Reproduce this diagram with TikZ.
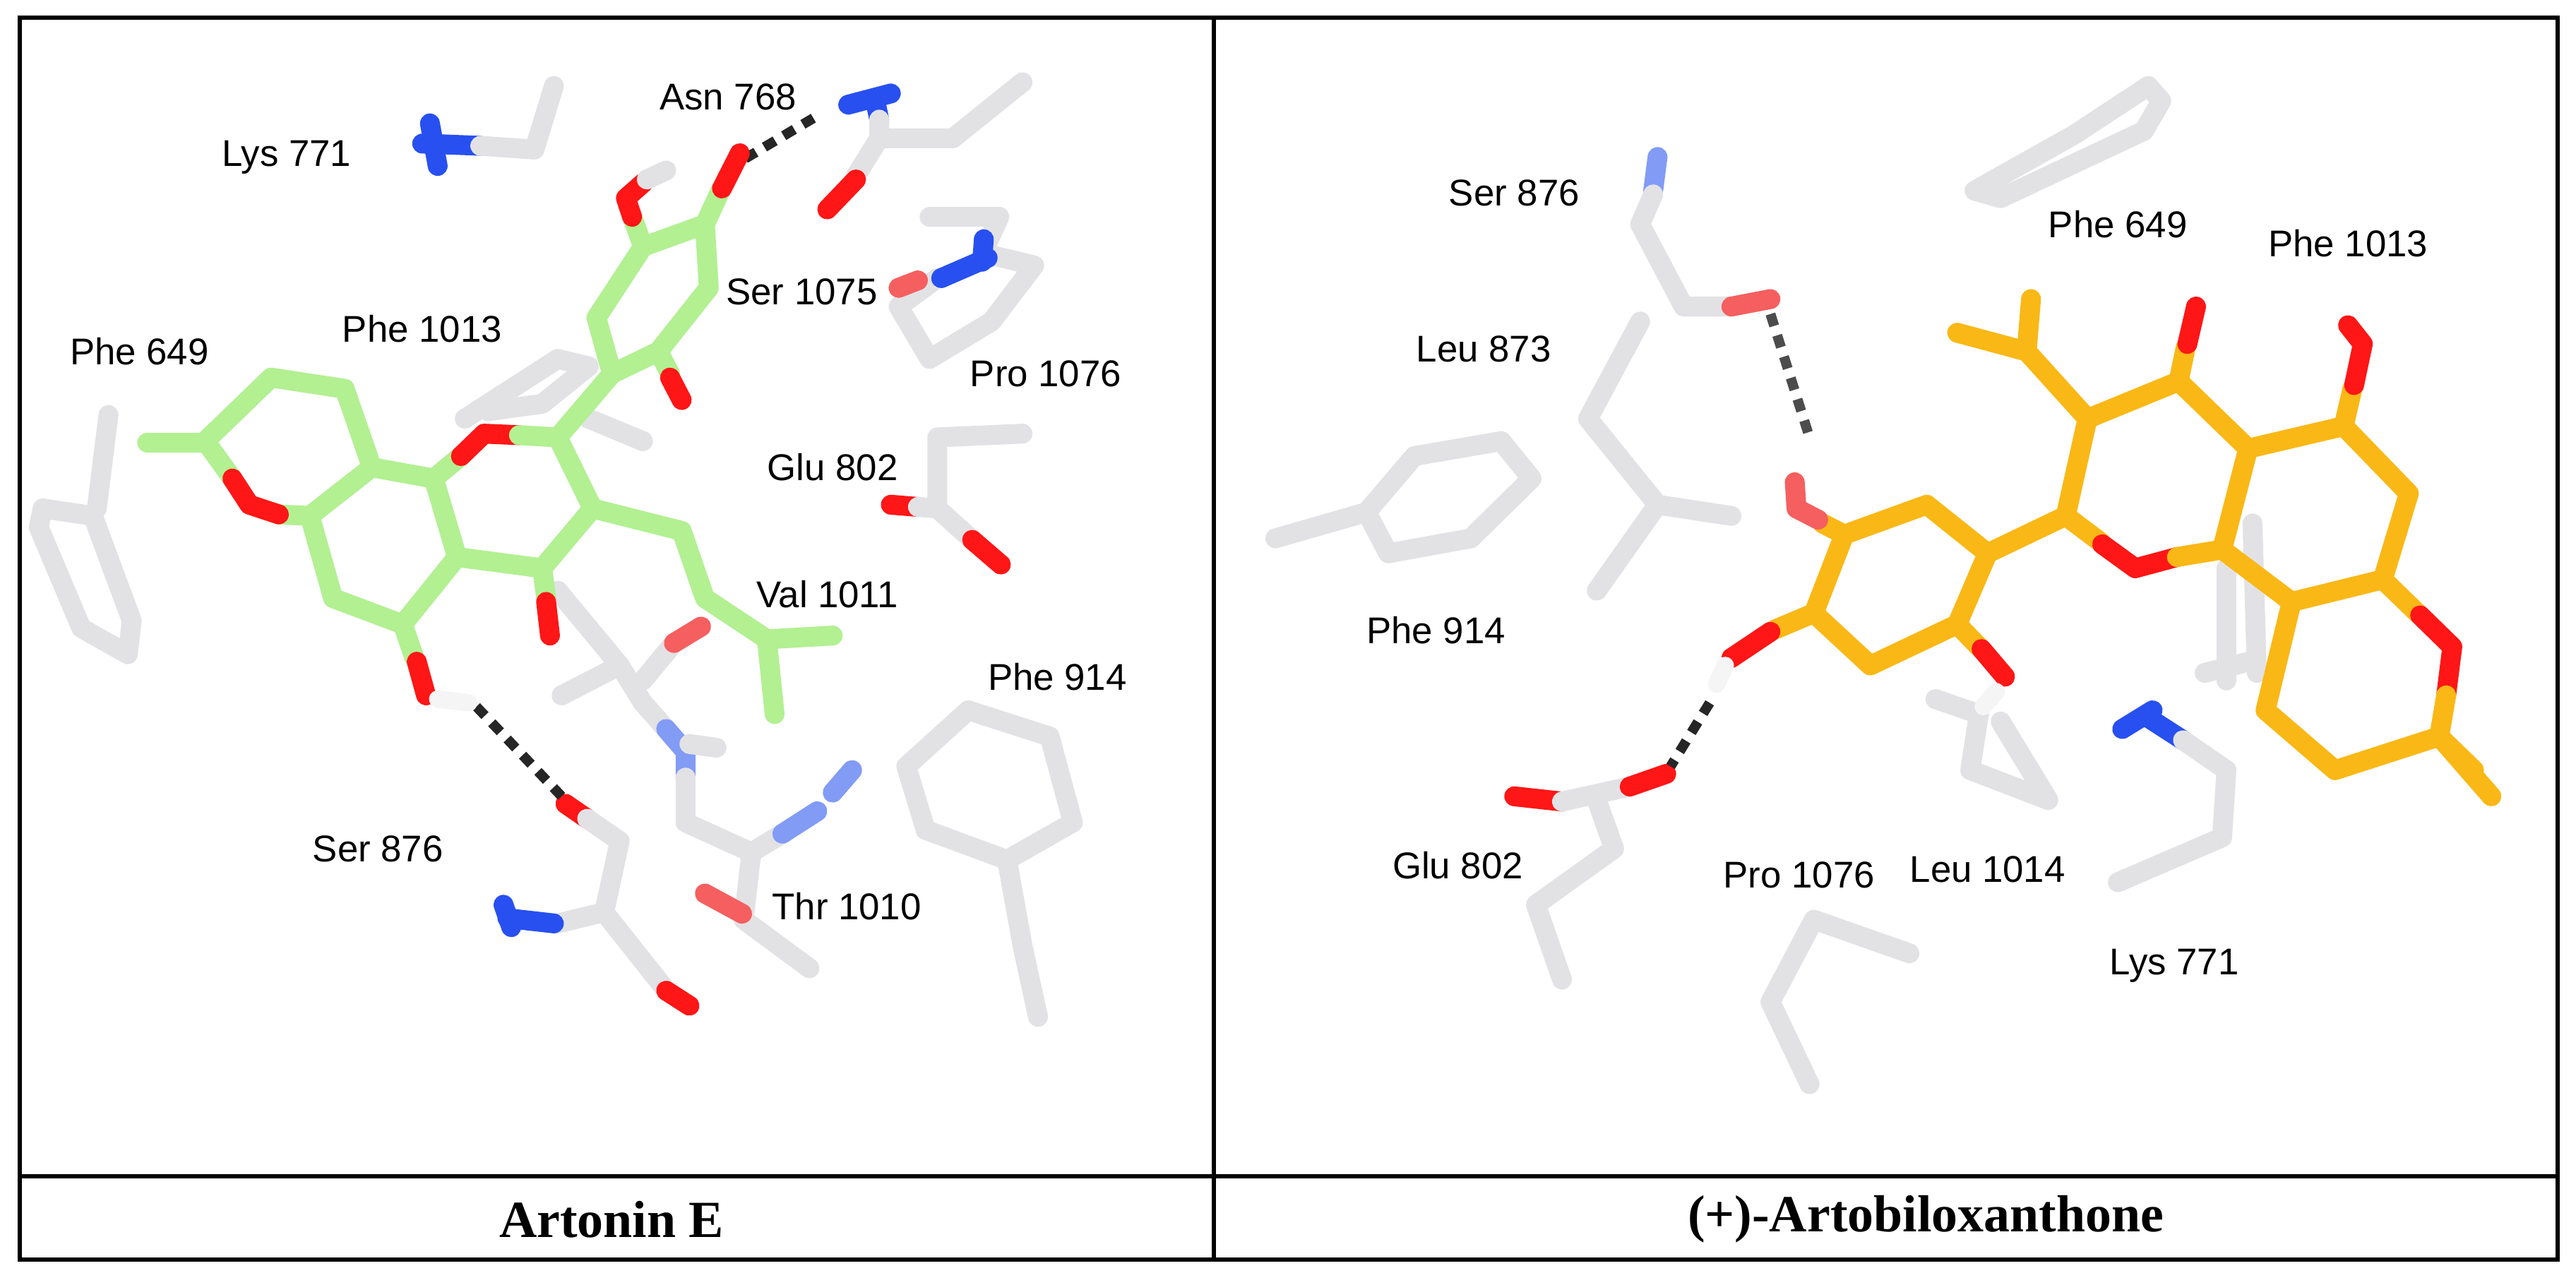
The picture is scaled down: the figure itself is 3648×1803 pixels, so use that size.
\documentclass[tikz,border=0pt]{standalone}
\usepackage{fontspec}
\setmainfont{Liberation Serif}
\newfontfamily\lab{Liberation Sans}
\definecolor{cg}{RGB}{226,226,229}
\definecolor{cgr}{RGB}{178,240,146}
\definecolor{cor}{RGB}{250,184,22}
\definecolor{crd}{RGB}{255,22,22}
\definecolor{clr}{RGB}{245,95,95}
\definecolor{cbl}{RGB}{40,80,240}
\definecolor{clb}{RGB}{130,155,245}
\tikzset{
 bd/.style={line width=8pt,line cap=round,line join=round},
 g/.style={bd,cg}, gr/.style={bd,cgr}, o/.style={bd,cor},
 r/.style={bd,crd}, lr/.style={bd,clr}, b/.style={bd,cbl}, lb/.style={bd,clb},
 hb/.style={line width=4pt,black!85,dash pattern=on 5pt off 4pt},
 lbl/.style={font=\lab\fontsize{15pt}{17pt}\selectfont},
}
\begin{document}
\begin{tikzpicture}[x=0.01cm,y=-0.01cm]
\useasboundingbox (0,0) rectangle (3648,1803);
\fill[white] (0,0) rectangle (3648,1803);
% ---------------- LEFT PANEL ----------------
\begin{scope}[xscale=1.097,yscale=1.059]
% Phe 649
\draw[g] (140,555)--(125,680);
\draw[g] (55,680)--(120,690)--(170,830)--(165,875)--(105,840)--(50,705)--cycle;
% Phe 1013 behind
\draw[g] (600,560)--(720,480)--(760,490)--(700,540)--(630,550);
\draw[g] (760,560)--(830,590);
% Lys 771
\draw[b] (555,165)--(565,222); \draw[b] (545,192)--(620,195);
\draw[g] (620,195)--(690,200)--(715,115);
% Asn 768
\draw[b] (1095,140)--(1150,125); \draw[b] (1130,135)--(1135,160);
\draw[g] (1135,160)--(1135,185)--(1230,185)--(1320,110);
\draw[g] (1135,185)--(1105,235); \draw[r] (1105,240)--(1068,280);
\draw[hb] (962,212)--(1050,158);
% Pro 1076 / Ser 1075
\draw[g] (1200,290)--(1290,290)--(1268,340);
\draw[g] (1210,372)--(1160,410)--(1200,480)--(1280,430)--(1335,355)--(1275,340);
\draw[b] (1270,320)--(1268,350); \draw[b] (1275,345)--(1215,372);
\draw[lr] (1160,385)--(1185,375);
% Glu 802
\draw[r] (1150,675)--(1185,678); \draw[g] (1185,678)--(1210,680)--(1210,585)--(1320,580);
\draw[g] (1210,680)--(1255,722); \draw[r] (1255,722)--(1292,755);
% Val 1011 / Thr 1010
\draw[g] (720,790)--(800,890)--(725,930);
\draw[g] (800,890)--(830,940)--(860,975);
\draw[g] (830,910)--(870,860); \draw[lr] (870,860)--(905,838);
\draw[lb] (860,975)--(885,1005)--(885,1040); \draw[g] (890,995)--(925,1000);
\draw[g] (885,1040)--(885,1100)--(970,1140)--(1010,1115);
\draw[lb] (1010,1115)--(1055,1085); \draw[lb] (1075,1060)--(1100,1030);
\draw[g] (970,1140)--(960,1230)--(1045,1295);
\draw[lr] (958,1222)--(910,1195);
% Ser 876
\draw[r] (730,1075)--(758,1095);
\draw[g] (758,1095)--(800,1125)--(780,1220)--(720,1235);
\draw[b] (715,1235)--(655,1228); \draw[b] (650,1210)--(660,1240);
\draw[g] (780,1220)--(855,1318); \draw[r] (860,1325)--(890,1345);
\draw[hb] (615,945)--(725,1065);
% Phe 914
\draw[g] (1170,1025)--(1250,950)--(1355,985)--(1385,1100)--(1300,1150)--(1195,1110)--cycle;
\draw[g] (1300,1150)--(1320,1265)--(1340,1360);
% Artonin E (green)
\draw[gr] (190,592)--(265,592);
\draw[gr] (300,640)--(265,590)--(350,505)--(445,520)--(480,625)--(400,690)--(360,688);
\draw[r] (360,688)--(322,675)--(300,640);
\draw[gr] (400,690)--(430,800)--(520,835)--(590,745)--(560,640)--(480,625);
\draw[gr] (560,640)--(595,610); \draw[r] (595,610)--(625,580)--(670,582);
\draw[gr] (670,582)--(720,585)--(765,680)--(700,760)--(590,745);
\draw[gr] (700,760)--(705,800); \draw[r] (705,805)--(710,850);
\draw[gr] (520,835)--(535,880); \draw[r] (538,885)--(550,930); \draw[line width=7pt,white!92!gray,line cap=round] (565,935)--(605,940);
\draw[gr] (765,680)--(880,710)--(910,800)--(990,855)--(1075,850);
\draw[gr] (990,855)--(1000,955);
\draw[gr] (720,585)--(790,500);
\draw[gr] (790,500)--(770,425)--(830,330)--(910,300)--(915,385)--(850,470)--cycle;
\draw[gr] (850,470)--(865,500); \draw[r] (865,505)--(880,535);
\draw[gr] (830,330)--(818,295); \draw[r] (816,290)--(808,265)--(830,245); \draw[g] (835,240)--(860,228);
\draw[gr] (910,300)--(930,255); \draw[r] (932,252)--(955,205);
% labels
\node[lbl] at (940,130) {Asn 768};
\node[lbl] at (370,210) {Lys 771};
\node[lbl] at (1035,390) {Ser 1075};
\node[lbl] at (545,440) {Phe 1013};
\node[lbl] at (180,470) {Phe 649};
\node[lbl] at (1350,500) {Pro 1076};
\node[lbl] at (1075,625) {Glu 802};
\node[lbl] at (1068,795) {Val 1011};
\node[lbl] at (1365,905) {Phe 914};
\node[lbl] at (488,1135) {Ser 876};
\node[lbl] at (1093,1212) {Thr 1010};
\end{scope}
% ---------------- RIGHT PANEL ----------------
\begin{scope}[shift={(1720,0)},xscale=1.23,yscale=1.059]
% Phe 649
\draw[g] (875,255)--(990,180)--(1075,115)--(1090,135)--(1070,175)--(905,265)--cycle;
% Phe 1013 behind
\draw[g] (1165,760)--(1165,910); \draw[g] (1195,700)--(1200,900); \draw[g] (1140,900)--(1190,885);
% Ser 876
\draw[lb] (510,210)--(505,255);
\draw[g] (505,260)--(490,300)--(540,410)--(595,410); \draw[lr] (595,410)--(640,400);
\draw[hb,black!70] (640,420)--(685,585);
% Leu 873
\draw[g] (490,430)--(430,560)--(510,675)--(595,690); \draw[g] (510,675)--(440,790);
% Phe 914
\draw[g] (70,720)--(175,685);
\draw[g] (175,685)--(230,610)--(330,590)--(365,640)--(295,720)--(200,740)--cycle;
% Glu 802
\draw[r] (345,1065)--(400,1072); \draw[g] (400,1072)--(478,1052); \draw[r] (478,1052)--(520,1035);
\draw[g] (440,1070)--(460,1135)--(370,1210)--(400,1310);
\draw[hb] (570,940)--(525,1025);
% Leu 1014
\draw[g] (830,935)--(880,955); \draw[g] (880,955)--(870,1030)--(960,1070)--(905,965);
% Lys 771
\draw[b] (1045,975)--(1080,950); \draw[b] (1075,960)--(1115,990);
\draw[g] (1115,990)--(1165,1030)--(1160,1120)--(1040,1180);
% Pro 1076
\draw[g] (800,1275)--(690,1230)--(640,1340)--(685,1450);
% Artobiloxanthone (orange)
\draw[o] (725,715)--(820,675)--(890,740)--(855,835)--(755,890)--(690,820)--cycle;
\draw[o] (725,715)--(700,700); \draw[lr] (695,695)--(670,680)--(668,645);
\draw[o] (690,820)--(645,842); \draw[r] (640,845)--(595,880); \draw[line width=7pt,white!92!gray,line cap=round] (588,890)--(578,915);
\draw[o] (855,835)--(880,865); \draw[r] (883,868)--(910,905); \draw[line width=7pt,white!92!gray,line cap=round] (900,925)--(885,945);
\draw[o] (890,740)--(980,690);
\draw[o] (1110,510)--(1005,560)--(980,690)--(1020,725); \draw[r] (1022,728)--(1060,760)--(1108,745);
\draw[o] (1108,745)--(1160,735)--(1190,600)--(1110,510);
\draw[o] (1110,510)--(1118,465); \draw[r] (1120,460)--(1130,410);
\draw[o] (1005,560)--(935,470)--(855,445); \draw[o] (935,470)--(940,400);
\draw[o] (1190,600)--(1300,570)--(1375,660)--(1345,775)--(1240,805)--(1160,735);
\draw[o] (1300,570)--(1310,520); \draw[r] (1312,515)--(1322,460)--(1305,435);
\draw[o] (1345,775)--(1385,820); \draw[r] (1388,823)--(1425,865)--(1418,930);
\draw[o] (1418,930)--(1410,985)--(1290,1030)--(1210,950)--(1240,805);
\draw[o] (1410,985)--(1470,1065); \draw[o] (1410,985)--(1450,1030);
% labels
\node[lbl] at (345,258) {Ser 876};
\node[lbl] at (1040,300) {Phe 649};
\node[lbl] at (1305,325) {Phe 1013};
\node[lbl] at (310,467) {Leu 873};
\node[lbl] at (255,843) {Phe 914};
\node[lbl] at (280,1157) {Glu 802};
\node[lbl] at (673,1170) {Pro 1076};
\node[lbl] at (890,1163) {Leu 1014};
\node[lbl] at (1105,1292) {Lys 771};
\end{scope}
% ---------------- FRAME ----------------
\draw[line width=1.6pt] (28,25) rectangle (3622,1784);
\draw[line width=1.6pt] (1719,25)--(1719,1784);
\draw[line width=1.6pt] (28,1666)--(3622,1666);
\node[font=\bfseries\fontsize{21pt}{24pt}\selectfont] at (866,1727) {Artonin E};
\node[font=\bfseries\fontsize{21pt}{24pt}\selectfont] at (2727,1727) {(+)-Artobiloxanthone};
\end{tikzpicture}
\end{document}
